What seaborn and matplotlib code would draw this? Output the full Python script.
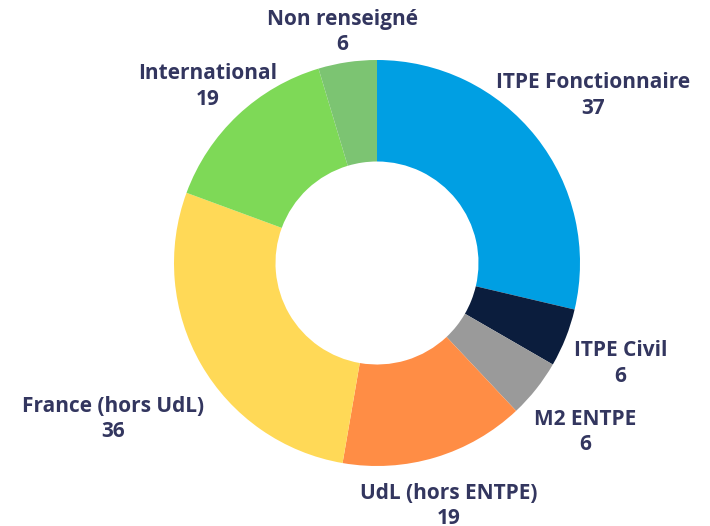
import numpy as np
import matplotlib.pyplot as plt
import seaborn as sns

categories = ["ITPE Fonctionnaire", "ITPE Civil", "M2 ENTPE", "UdL (hors ENTPE)",
              "France (hors UdL)", "International", "Non renseigné"]
counts = [37, 6, 6, 19, 36, 19, 6]
colors = ["#009fe3", "#0b1d3d", "#9a9a9a", "#ff8d45", "#ffd957", "#7ed957", "#7cc472"]
label_dist = [1.36, 1.29, 1.31, 1.23, 1.50, 1.22, 1.17]

sns.set_theme(style="white")
plt.rcParams['font.family'] = ['Open Sans', 'DejaVu Sans']

fig = plt.figure(figsize=(7.10, 5.26), dpi=100)
ax = fig.add_axes([0, 0, 1, 1])

cx, cy, r = 377, 263, 203
wedges, _ = ax.pie(counts, colors=colors, startangle=90, counterclock=False,
                   center=(cx, cy), radius=r, frame=True,
                   wedgeprops=dict(width=r * 0.5, edgecolor='none'))
ax.set_xlim(0, 710)
ax.set_ylim(0, 526)
ax.set_aspect('equal')
ax.axis('off')

for w, name, n, d in zip(wedges, categories, counts, label_dist):
    ang = np.deg2rad((w.theta1 + w.theta2) / 2)
    x = cx + r * d * np.cos(ang)
    y = cy + r * d * np.sin(ang) - 4
    ax.text(x, y, f"{name}\n{n}", ha='center', va='center', fontsize=15,
            fontweight='bold', color='#33365f', linespacing=1.28)

fig.savefig("out.png", dpi=100)
